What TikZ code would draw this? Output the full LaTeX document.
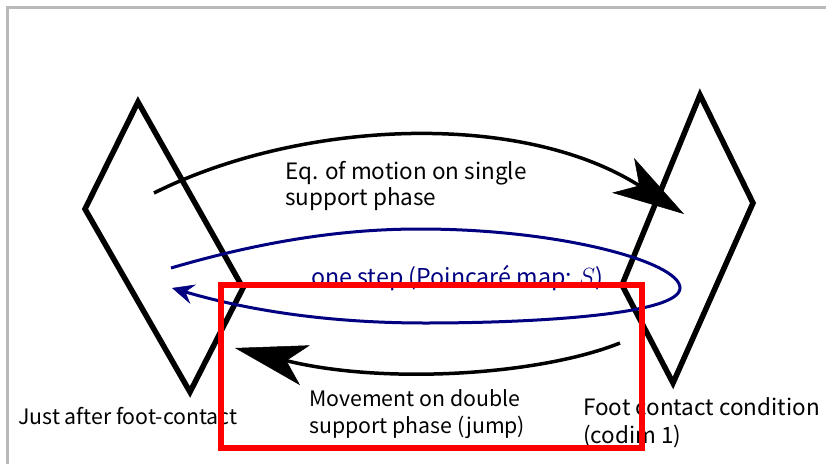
\documentclass[tikz,border=0pt]{standalone}
\usepackage{fontspec}
\setmainfont{Noto Sans CJK JP}
\usetikzlibrary{arrows.meta}
\definecolor{navyblue}{RGB}{0,0,128}
\definecolor{framegray}{RGB}{185,185,185}
\definecolor{boxred}{RGB}{255,0,0}
\begin{document}
\begin{tikzpicture}[x=1pt,y=-1pt,
  plane/.style={draw=black, line width=5.5pt, line join=miter},
  flow/.style={draw=black, line width=3.5pt, -{Stealth[length=72pt,width=41pt,inset=19pt,line width=0.5pt]}},
  cyclearrow/.style={draw=navyblue, line width=3pt, -{Stealth[length=22pt,width=20pt,inset=8pt,line width=0.5pt]}},
  lbl/.style={anchor=base west, inner sep=0pt, font=\fontsize{21.3}{26}\selectfont},
  lblbig/.style={lbl, font=\fontsize{22.5}{27}\selectfont},
]
\useasboundingbox (0,0) rectangle (826,463);
\fill[white] (0,0) rectangle (826,463);
\draw[framegray, line width=3pt] (7,470) -- (7,7) -- (830,7);

% planes (sections)
\draw[plane] (138,102) -- (243,288) -- (190,392) -- (85,209) -- cycle;
\draw[plane] (700,95) -- (753,203) -- (673,383) -- (622,285) -- cycle;

% Poincare cycle
\coordinate (c1) at (171,268);
\coordinate (c2) at (680,288);
\coordinate (c3) at (172,288);
\draw[cyclearrow] (c1) .. controls (280,236) and (360,229) .. (420,229)
  .. controls (560,229) and (680,262) .. (c2)
  .. controls (680,314) and (540,323) .. (425,323)
  .. controls (320,323) and (240,308) .. (c3);

% flows
\coordinate (a1) at (154,193);
\coordinate (a2) at (684,214);
\draw[flow] (a1) .. controls (300,120) and (520,110) .. (a2);
\coordinate (b1) at (620,343);
\coordinate (b2) at (235,348);
\draw[flow] (b1) .. controls (540,375) and (385,385) .. (b2);

% labels
\node[lblbig] (eq1) at (285,179) {Eq. of motion on single};
\node[lblbig] (eq2) at (285,205) {support phase};
\node[lbl, text=navyblue, font=\fontsize{23.2}{27}\selectfont] (step) at (311,285) {one step (Poincaré map: $S$)};
\node[lbl] (mv1) at (309,406) {Movement on double};
\node[lbl] (mv2) at (309,433) {support phase (jump)};
\node[lbl] (just) at (18,424) {Just after foot-contact};
\node[lblbig] (fc1) at (583,415) {Foot contact condition};
\node[lblbig] (fc2) at (583,443) {(codim 1)};

% highlight box
\draw[boxred, line width=6.5pt] (221,285) rectangle (642,448);
\end{tikzpicture}
\end{document}
